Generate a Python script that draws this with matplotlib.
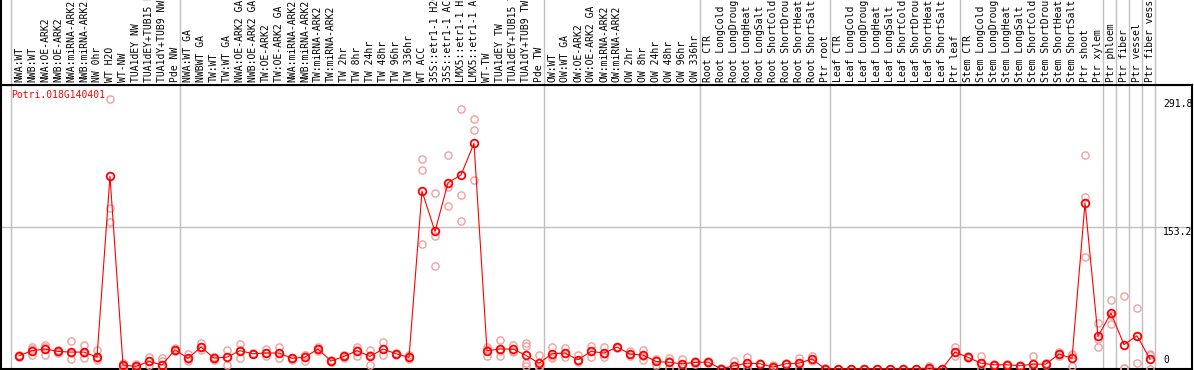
import matplotlib.pyplot as plt

# sample labels (88 conditions)
labels = [
    "NWA:WT", "NWB:WT", "NWA:OE-ARK2", "NWB:OE-ARK2", "NWA:miRNA-ARK2", "NWB:miRNA-ARK2",
    "NW 0hr", "WT H2O", "WT-NW", "TUA1dEY NW", "TUA1dEY+TUB15 NW", "TUA1dY+TUB9 NW", "Pde NW",
    "NWA:WT GA", "NWBWT GA", "TW:WT", "TW:WT GA", "NWA:OE-ARK2 GA", "NWB:OE-ARK2 GA",
    "TW:OE-ARK2", "TW:OE-ARK2 GA", "NWA:miRNA-ARK2", "NWB:miRNA-ARK2", "TW:miRNA-ARK2",
    "TW:miRNA-ARK2", "TW 2hr", "TW 8hr", "TW 24hr", "TW 48hr", "TW 96hr", "TW 336hr",
    "WT ACC", "35S::etr1-1 H2O", "35S::etr1-1 ACC", "LMX5::etr1-1 H2O", "LMX5::etr1-1 ACC",
    "WT-TW", "TUA1dEY TW", "TUA1dEY+TUB15 TW", "TUA1dY+TUB9 TW", "Pde TW",
    "OW:WT", "OW:WT GA", "OW:OE-ARK2", "OW:OE-ARK2 GA", "OW:miRNA-ARK2", "OW:miRNA-ARK2",
    "OW 2hr", "OW 8hr", "OW 24hr", "OW 48hr", "OW 96hr", "OW 336hr",
    "Root CTR", "Root LongCold", "Root LongDrought", "Root LongHeat", "Root LongSalt",
    "Root ShortCold", "Root ShortDrought", "Root ShortHeat", "Root ShortSalt", "Ptr root",
    "Leaf CTR", "Leaf LongCold", "Leaf LongDrought", "Leaf LongHeat", "Leaf LongSalt",
    "Leaf ShortCold", "Leaf ShortDrought", "Leaf ShortHeat", "Leaf ShortSalt", "Ptr leaf",
    "Stem CTR", "Stem LongCold", "Stem LongDrought", "Stem LongHeat", "Stem LongSalt",
    "Stem ShortCold", "Stem ShortDrought", "Stem ShortHeat", "Stem ShortSalt",
    "Ptr shoot", "Ptr xylem", "Ptr phloem", "Ptr fiber", "Ptr vessel", "Ptr fiber vessel",
]

means = [
    14, 19.5, 21.3, 18.7, 18, 18, 12.6, 208.3, 4, 2.5, 7.9, 4, 20.5,
    11.2, 23.4, 11.5, 12.6, 19.5, 16.2, 17, 17, 11.2, 12.6, 21.3, 8.3, 13.3,
    19.5, 13.3, 21.3, 16.2, 12.3, 192.2, 148.5, 201.3, 209.6, 244, 19.5, 21.3,
    21.3, 14.4, 6, 16.2, 17, 9.7, 18.7,
    17, 23.4, 15.9, 14.8, 7.9, 6.8, 5.4, 6.8, 7.2, 0, 3.2, 6, 5.4, 1.8, 5.4, 6, 10.5,
    0, 0, 0, 0, 0, 0, 0, 0, 0.7, 0, 18, 12.3, 6, 4.3, 4.3, 3.2, 5, 5, 15.9, 11.2,
    179.2, 35, 60.2, 26, 35.7, 10.5,
]

replicates = [
    [13, 14, 15], [23, 14.4, 21], [26, 15, 23], [20, 18, 17.5], [30, 10.5, 17], [25.6, 11.5, 17],
    [20.5, 9, 11.5], [291.8, 173.7, 159.3], [6, 2.5, 0.5], [5.4, 0.7, 1.5], [12.3, 4.3, 7.9],
    [11.2, 8, 0.7], [22, 19, 20.5],
    [15.9, 8, 10], [27.7, 19.8, 23], [13, 9, 12.5], [20.5, 4, 13], [27, 11.5, 20], [17, 15.5, 16],
    [21.6, 13.3, 17], [23.4, 11.5, 17], [12, 9.5, 11.5], [15, 8, 14.5], [23, 19, 21.3],
    [9, 7, 8.5], [15, 11.5, 13.3], [24, 14, 20.5], [20.5, 4, 15], [28.8, 14.4, 21],
    [17, 14.4, 16], [15, 10.5, 12.3], [226.7, 215, 135], [190, 144, 111.4], [231, 197, 176],
    [281, 187.7, 160], [270, 258, 204], [24, 13.3, 21], [31.4, 13.3, 19], [26, 18.5, 19.5],
    [28, 25, 6, 3], [14.4, 3, 1], [23.4, 11.5, 14], [22, 12.3, 17], [15, 7, 8], [24.9, 12.3, 19],
    [23, 12.3, 16], [24, 22.5, 23.5], [18.7, 13.3, 15.9], [20.5, 9.7, 14], [10, 4.3, 9],
    [11.5, 0.7, 8], [10, 0.7, 5.5], [8, 5.5, 7], [8, 6.5, 7.2], [0.5, 0, 0],
    [7.9, 0, 2], [12.3, 0.4, 5.4], [6, 5, 5.4], [4.3, 0.5, 1], [6, 5, 5.4], [11.5, 0.7, 6],
    [13.3, 8, 10.5], [0.5, 0, 0], [0, 0, 0], [0, 0, 0], [0, 0, 0], [0, 0, 0], [0, 0, 0],
    [0, 0, 0], [0, 0, 0], [3.2, 0, 0], [0, 0, 0], [23, 13.3, 18], [13.3, 11.2, 12.3],
    [13.3, 0, 5], [5, 3.5, 4.3], [5, 3.5, 4.3], [4, 2.5, 3.2], [14, 0, 1.5], [6, 4, 5],
    [18, 15.9, 14], [15.9, 2.5, 15], [231.4, 185.6, 120.7], [49.4, 23.4, 32], [74.6, 48.3, 57.6],
    [79, 0.4, 0.5], [65.6, 6, 35.5], [15, 0, 16],
]

gene = "Potri.018G140401"
ticks = [291.8, 153.2, 0]
group_ends = [-1, 12, 40, 52, 62, 72, 83, 84, 85, 86, 87]

W, H = 1194, 370
fig = plt.figure(figsize=(W / 100, H / 100), dpi=100)
mono = "DejaVu Sans Mono"
red = "#ff0000"
grid = "#c0c0c0"

xl = ((1 - 19) / 13, (1192 - 19) / 13)
ax = fig.add_axes([1 / W, 1 / H, 1191 / W, 284 / H])
hx = fig.add_axes([1 / W, 285 / H, 1191 / W, 85 / H], sharex=ax)

x = list(range(len(labels)))
for i, reps in enumerate(replicates):
    ax.plot([i] * len(reps), reps, "o", ms=5.2, mfc="none", mec="#f0a0a0", mew=1.0, zorder=3)
ax.plot(x, means, "-", color=red, lw=0.8, zorder=4)
ax.plot(x, means, "o", ms=5.5, mfc="none", mec=red, mew=1.3, zorder=5)

for g in group_ends:
    ax.axvline(g + 5 / 13, color=grid, lw=1, zorder=1)
    hx.axvline(g + 5 / 13, color=grid, lw=1, zorder=1)
ax.axhline(153.2, color=grid, lw=1, zorder=1)

ax.set_xlim(*xl)
ax.set_ylim(-0.3, 307)
ax.set_xticks([])
ax.set_yticks([])
for s in ax.spines.values():
    s.set_color("black")
    s.set_linewidth(1.5)

for t in ticks[:2]:
    ax.annotate(f"{t}", (88.0, t), xytext=(0, 0), textcoords="offset points",
                ha="left", va="top", fontsize=7, family=mono, zorder=6)
ax.annotate("0", (88.0, 0), xytext=(0, 3), textcoords="offset points",
            ha="left", va="bottom", fontsize=7, family=mono, zorder=6)

ax.annotate(gene, (10 / 1191, 1), xycoords="axes fraction", xytext=(0, -7),
            textcoords="offset points", ha="left", va="center", color=red,
            fontsize=7, family=mono)

hx.set_ylim(0, 1)
hx.set_xticks([])
hx.set_yticks([])
for k in ["top", "right"]:
    hx.spines[k].set_visible(False)
hx.spines["bottom"].set_linewidth(1.5)
hx.spines["left"].set_linewidth(1.5)
for i, lab in enumerate(labels):
    hx.text(i, 0.03, lab, rotation=90, ha="center", va="bottom", fontsize=7,
            family=mono, clip_on=True)

fig.savefig("out.png", dpi=100)
